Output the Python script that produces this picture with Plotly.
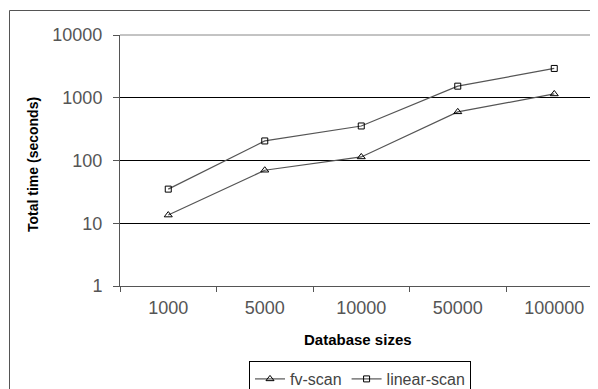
import plotly.graph_objects as go

categories = ["1000", "5000", "10000", "50000", "100000"]
fv_scan = [13.5, 70, 114, 596, 1150]
linear_scan = [35, 205, 355, 1530, 2930]
y_tick_vals = [1, 10, 100, 1000, 10000]
y_tick_text = ["1", "10", "100", "1000", "10000"]

# The page body has an 8px default margin, so figure coords = screen coords - 8
OFF = 8
W, H = 598, 389
L = 120 - OFF
T = 35 - OFF
BOTTOM = 286 - OFF
R = 0
B = H - BOTTOM
pw = W - L - R
ph = H - T - B

FONT = "Liberation Sans, Arial, sans-serif"


def px_x(sx):
    return (sx - OFF - L) / pw


def px_y(sy):
    return (BOTTOM - (sy - OFF)) / ph


fig = go.Figure()
fig.add_trace(go.Scatter(
    x=categories, y=fv_scan, name="fv-scan", mode="lines+markers",
    line=dict(color="#555555", width=1.2),
    marker=dict(symbol="triangle-up-open", size=7, color="black", line=dict(width=1, color="black")),
    cliponaxis=False,
))
fig.add_trace(go.Scatter(
    x=categories, y=linear_scan, name="linear-scan", mode="lines+markers",
    line=dict(color="#555555", width=1.2),
    marker=dict(symbol="square-open", size=6, color="black", line=dict(width=1, color="black")),
    cliponaxis=False,
))

fig.update_layout(
    width=W, height=H,
    margin=dict(l=L, r=R, t=T, b=B, pad=0, autoexpand=False),
    paper_bgcolor="white", plot_bgcolor="white",
    font=dict(family=FONT, color="#333333"),
    showlegend=True,
    legend=dict(
        orientation="h", xref="container", yref="container",
        x=(360 - OFF) / W, xanchor="center",
        y=1 - (361 - OFF) / H, yanchor="top",
        bgcolor="white", bordercolor="black", borderwidth=1,
        font=dict(size=16, color="#444444", family=FONT),
        itemwidth=30, tracegroupgap=0,
    ),
    xaxis=dict(
        type="category", range=[-0.5, -0.5 + pw / 96.5],
        showgrid=False, showline=True, linecolor="#555555", linewidth=1,
        ticks="outside", ticklen=5, tickcolor="#555555", tickson="boundaries",
        tickfont=dict(size=18, color="#555555", family=FONT),
        ticklabelstandoff=5,
        zeroline=False, fixedrange=True, automargin=False,
    ),
    yaxis=dict(
        type="log", range=[0, 4],
        tickvals=y_tick_vals, ticktext=y_tick_text,
        showgrid=True, gridcolor="black", gridwidth=1,
        showline=True, linecolor="#555555", linewidth=1,
        ticks="outside", ticklen=6, tickcolor="#555555",
        tickfont=dict(size=18, color="#555555", family=FONT),
        ticklabelstandoff=7,
        zeroline=False, fixedrange=True, automargin=False,
    ),
    annotations=[
        dict(text="<b>Total time (seconds)</b>", textangle=-90,
             xref="paper", yref="paper", x=px_x(33), y=px_y(165),
             xanchor="center", yanchor="middle", showarrow=False,
             font=dict(size=14, color="black", family=FONT)),
        dict(text="<b>Database sizes</b>",
             xref="paper", yref="paper", x=px_x(358), y=px_y(339),
             xanchor="center", yanchor="middle", showarrow=False,
             font=dict(size=15, color="black", family=FONT)),
    ],
    shapes=[
        dict(type="rect", xref="paper", yref="paper",
             x0=px_x(9.5), x1=px_x(W + 30),
             y0=px_y(H + 30), y1=px_y(10.5),
             line=dict(color="#555555", width=1), fillcolor="rgba(0,0,0,0)", layer="below"),
        dict(type="line", xref="paper", yref="paper",
             x0=0, x1=1, y0=1, y1=1,
             line=dict(color="#888888", width=1), layer="above"),
    ],
)

fig.write_html("out.html")
